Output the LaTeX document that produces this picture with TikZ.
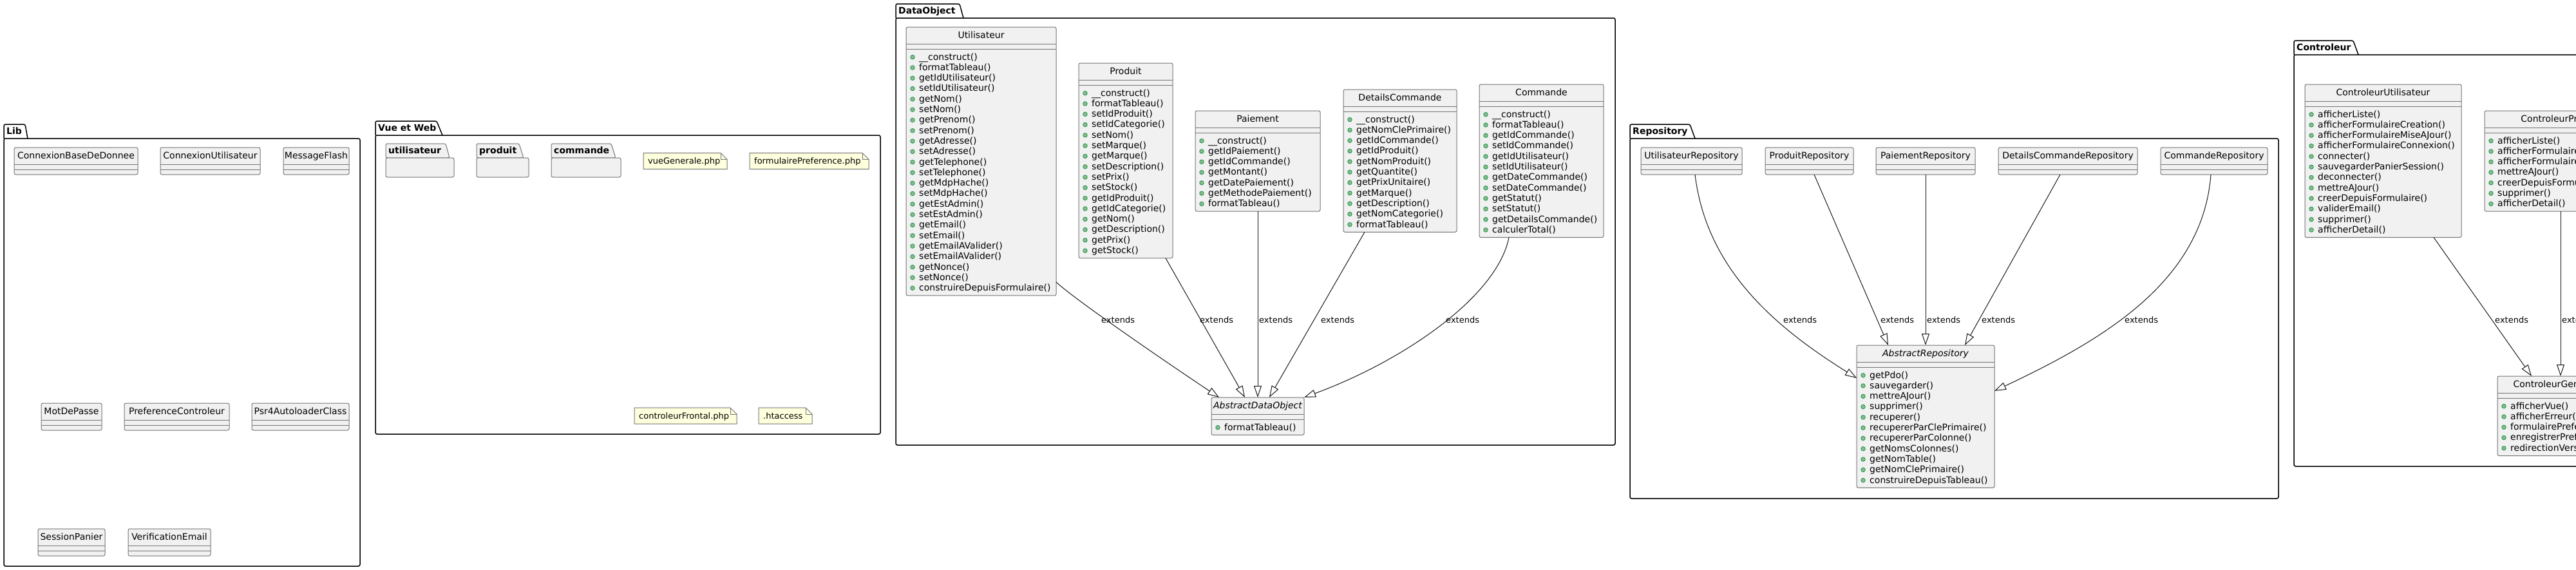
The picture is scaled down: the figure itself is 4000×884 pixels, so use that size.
\documentclass[tikz,border=0pt]{standalone}
\usepackage{fontspec}
\setmainfont{DejaVu Sans}
\usetikzlibrary{arrows.meta,calc}
\definecolor{classfill}{HTML}{F1F1F1}
\definecolor{classborder}{HTML}{181818}
\definecolor{notefill}{HTML}{FEFFDD}
\definecolor{iconfill}{HTML}{84BE84}
\definecolor{icondraw}{HTML}{038048}
\tikzset{
 classbox/.style={rectangle, draw=classborder!60, fill=classfill, line width=1pt, rounded corners=2.5pt, inner sep=0pt, outer sep=0pt, anchor=north west},
 compline/.style={draw=classborder!60, line width=1pt},
 classname/.style={anchor=base, inner sep=0pt, font=\fontsize{14}{16}\selectfont},
 member/.style={anchor=base west, inner sep=0pt, font=\fontsize{14}{16}\selectfont},
 memicon/.style={fill=iconfill, draw=icondraw, line width=0.6pt},
 pkgline/.style={draw=black, line width=1.5pt, rounded corners=2.5pt},
 pkgtitle/.style={anchor=base west, inner sep=0pt, font=\fontsize{14}{16}\selectfont\bfseries},
 subpkgbox/.style={draw=classborder!60, fill=classfill, line width=1pt, rounded corners=2.5pt},
 notebox/.style={draw=classborder!60, fill=notefill, line width=1pt},
 notetext/.style={anchor=base west, inner sep=0pt, font=\fontsize{13}{15}\selectfont},
 extends/.style={draw=classborder, line width=1pt, -{Triangle[length=18pt, width=12pt, fill=white]}},
 elabel/.style={anchor=base west, inner sep=0pt, font=\fontsize{13}{15}\selectfont},
}
% class with methods: id, left, top, right, n, title, members
\newcommand{\umlclass}[7]{%
  \pgfmathsetmacro\cbot{#3+42+#5*16.3}%
  \pgfmathsetmacro\cwid{#4-#2}%
  \pgfmathsetmacro\chgt{\cbot-#3}%
  \node[classbox, minimum width=\cwid pt, minimum height=\chgt pt] (#1) at (#2,#3) {};
  \draw[compline] (#2,#3+26) -- (#4,#3+26);
  \draw[compline] (#2,#3+34) -- (#4,#3+34);
  \node[classname] (#1-title) at ({(#2+#4)/2},#3+17) {#6};
  \foreach \m [count=\i from 0] in {#7}{%
    \fill[memicon] (#2+10,#3+46.7+\i*16.3) circle (3.3);
    \node[member] (#1-m\i) at (#2+20,#3+51+\i*16.3) {\m()};
  }%
}
% empty class: id, left, top, right, title
\newcommand{\emptyclass}[5]{%
  \pgfmathsetmacro\cwid{#4-#2}%
  \node[classbox, minimum width=\cwid pt, minimum height=42pt] (#1) at (#2,#3) {};
  \draw[compline] (#2,#3+26) -- (#4,#3+26);
  \draw[compline] (#2,#3+34) -- (#4,#3+34);
  \node[classname] (#1-title) at ({(#2+#4)/2},#3+17) {#5};
}
% package: name, left, tabtop, bodytop, slanttop, slantbottom, right, bottom, title
\newcommand{\umlpackage}[9]{%
  \draw[pkgline] (#2,#4) -- (#2,#3) -- (#5,#3) -- (#6,#4);
  \draw[pkgline] (#2,#4) rectangle (#7,#8);
  \node[pkgtitle] (#1) at (#2+4,#3+15) {#9};
}
% sub package: name, left, tabtop, tabbottom, slanttop, slantbottom, right, bottom, title
\newcommand{\subpkg}[9]{%
  \filldraw[subpkgbox] (#2,#4) -- (#2,#3) -- (#5,#3) -- (#6,#4) -- cycle;
  \filldraw[subpkgbox] (#2,#4) rectangle (#7,#8);
  \node[pkgtitle] (#1) at (#2+4,#3+15) {#9};
}
% note: name, left, top, right, bottom, text
\newcommand{\umlnote}[6]{%
  \filldraw[notebox] (#2,#3) -- (#4-10,#3) -- (#4,#3+10) -- (#4,#5) -- (#2,#5) -- cycle;
  \draw[notebox, fill=none] (#4-10,#3) -- (#4-10,#3+10) -- (#4,#3+10);
  \node[notetext] (#1) at (#2+7,#3+17) {#6};
}
\begin{document}
\begin{tikzpicture}[x=1pt,y=-1pt]
\useasboundingbox (0,0) rectangle (4000,884);
\clip (0,0) rectangle (4000,884);
\fill[white] (0,0) rectangle (4000,884);

% ---------------- Lib
\umlpackage{pkglib}{6}{193}{215}{39}{43}{559}{879}{Lib}
\emptyclass{cbd}{22}{229}{214}{ConnexionBaseDeDonnee}
\emptyclass{cnu}{249}{229}{404}{ConnexionUtilisateur}
\emptyclass{msf}{440}{229}{542}{MessageFlash}
\emptyclass{mdp}{64}{626}{158}{MotDePasse}
\emptyclass{prc}{193}{626}{356}{PreferenceControleur}
\emptyclass{psr}{391}{626}{542}{Psr4AutoloaderClass}
\emptyclass{sp}{59}{821}{163}{SessionPanier}
\emptyclass{ve}{199}{821}{327}{VerificationEmail}

% ---------------- Vue et Web
\umlpackage{pkgvue}{583}{188}{210}{678}{687}{1367}{674}{Vue et Web}
\subpkg{spu}{599}{223}{245}{692}{698}{705}{275}{utilisateur}
\subpkg{spp}{740}{223}{245}{806}{813}{821}{275}{produit}
\subpkg{spc}{856}{223}{245}{949}{956}{964}{275}{commande}
\umlnote{nvg}{999}{237.5}{1129}{262.5}{vueGenerale.php}
\umlnote{nfp}{1164}{237.5}{1349}{262.5}{formulairePreference.php}
\umlnote{ncf}{985}{633}{1144}{658}{controleurFrontal.php}
\umlnote{nht}{1178}{633}{1261}{658}{.htaccess}

% ---------------- DataObject
\umlpackage{pkgdo}{1391}{6}{28}{1490}{1496}{2508}{691}{DataObject}
\umlclass{util}{1407}{42}{1640}{23}{Utilisateur}{\_\_construct,formatTableau,getIdUtilisateur,setIdUtilisateur,getNom,setNom,getPrenom,setPrenom,getAdresse,setAdresse,getTelephone,setTelephone,getMdpHache,setMdpHache,getEstAdmin,setEstAdmin,getEmail,setEmail,getEmailAValider,setEmailAValider,getNonce,setNonce,construireDepuisFormulaire}
\umlclass{prod}{1675}{98}{1821}{16}{Produit}{\_\_construct,formatTableau,setIdProduit,setIdCategorie,setNom,setMarque,getMarque,setDescription,setPrix,setStock,getIdProduit,getIdCategorie,getNom,getDescription,getPrix,getStock}
\umlclass{paie}{1856}{172}{2050}{7}{Paiement}{\_\_construct,getIdPaiement,getIdCommande,getMontant,getDatePaiement,getMethodePaiement,formatTableau}
\umlclass{detc}{2086}{139}{2262}{11}{DetailsCommande}{\_\_construct,getNomClePrimaire,getIdCommande,getIdProduit,getNomProduit,getQuantite,getPrixUnitaire,getMarque,getDescription,getNomCategorie,formatTableau}
\umlclass{comm}{2297}{131}{2490}{12}{Commande}{\_\_construct,formatTableau,getIdCommande,setIdCommande,getIdUtilisateur,setIdUtilisateur,getDateCommande,setDateCommande,getStatut,setStatut,getDetailsCommande,calculerTotal}
\umlclass{ado}{1881}{617}{2025}{1}{\itshape AbstractDataObject}{formatTableau}

\draw[extends] ($(util.south east)+(0,-21)$) .. controls (1665,462) and (1800,555) .. ($(ado.north west)+(12,0)$);
\draw[extends] ($(prod.south east)+(-11,0)$) -- ($(ado.north west)+(52,0)$);
\draw[extends] (paie.south) -- (ado.north);
\draw[extends] ($(detc.south west)+(33,0)$) -- ($(ado.north west)+(90,0)$);
\draw[extends] ($(comm.south west)+(46,0)$) .. controls (2325,460) and (2180,560) .. (ado.north east);
\node[elabel] (l1) at (1710,501.5) {extends};
\node[elabel] (l2) at (1863,501.5) {extends};
\node[elabel] (l3) at (1955,501.5) {extends};
\node[elabel] (l4) at (2051,501.5) {extends};
\node[elabel] (l5) at (2245,501.5) {extends};

% ---------------- Repository
\umlpackage{pkgrep}{2531}{193}{215}{2624}{2632}{3538}{774}{Repository}
\emptyclass{urep}{2548}{229}{2705}{UtilisateurRepository}
\emptyclass{prep}{2741}{229}{2878}{ProduitRepository}
\emptyclass{parep}{2913}{229}{3067}{PaiementRepository}
\emptyclass{dcrep}{3103}{229}{3319}{DetailsCommandeRepository}
\emptyclass{crep}{3355}{229}{3521}{CommandeRepository}
\umlclass{arep}{2883}{536}{3097}{11}{\itshape AbstractRepository}{getPdo,sauvegarder,mettreAJour,supprimer,recuperer,recupererParClePrimaire,recupererParColonne,getNomsColonnes,getNomTable,getNomClePrimaire,construireDepuisTableau}

\draw[extends] ($(urep.south west)+(84,0)$) .. controls (2650,420) and (2760,510) .. ($(arep.north west)+(0,51)$);
\draw[extends] ($(prep.south west)+(76,0)$) -- ($(arep.north west)+(49,0)$);
\draw[extends] (parep.south) -- (arep.north);
\draw[extends] ($(dcrep.south west)+(96,0)$) -- ($(arep.north west)+(168,0)$);
\draw[extends] ($(crep.south west)+(78,0)$) .. controls (3420,440) and (3260,530) .. ($(arep.north east)+(0,71)$);
\node[elabel] (l6) at (2769,501.5) {extends};
\node[elabel] (l7) at (2920,501.5) {extends};
\node[elabel] (l8) at (2992,501.5) {extends};
\node[elabel] (l9) at (3077,501.5) {extends};
\node[elabel] (l10) at (3299,501.5) {extends};

% ---------------- Controleur
\umlpackage{pkgctl}{3562}{63}{85}{3654}{3662}{4200}{724}{Controleur}
\umlclass{cutil}{3579}{131}{3822}{12}{ControleurUtilisateur}{afficherListe,afficherFormulaireCreation,afficherFormulaireMiseAJour,afficherFormulaireConnexion,connecter,sauvegarderPanierSession,deconnecter,mettreAJour,creerDepuisFormulaire,validerEmail,supprimer,afficherDetail}
\umlclass{cprod}{3858}{172}{4094}{7}{ControleurProduit}{afficherListe,afficherFormulaireCreation,afficherFormulaireMiseAJour,mettreAJour,creerDepuisFormulaire,supprimer,afficherDetail}
\umlclass{cgen}{3878}{584}{4074}{5}{ControleurGenerique}{afficherVue,afficherErreur,formulairePreference,enregistrerPreference,redirectionVers}

\draw[extends] ($(cutil.south west)+(200,0)$) -- ($(cgen.north west)+(53,0)$);
\draw[extends] (cprod.south) -- (cgen.north);
\node[elabel] (l11) at (3874,501.5) {extends};
\node[elabel] (l12) at (3978,501.5) {extends};
\end{tikzpicture}
\end{document}
